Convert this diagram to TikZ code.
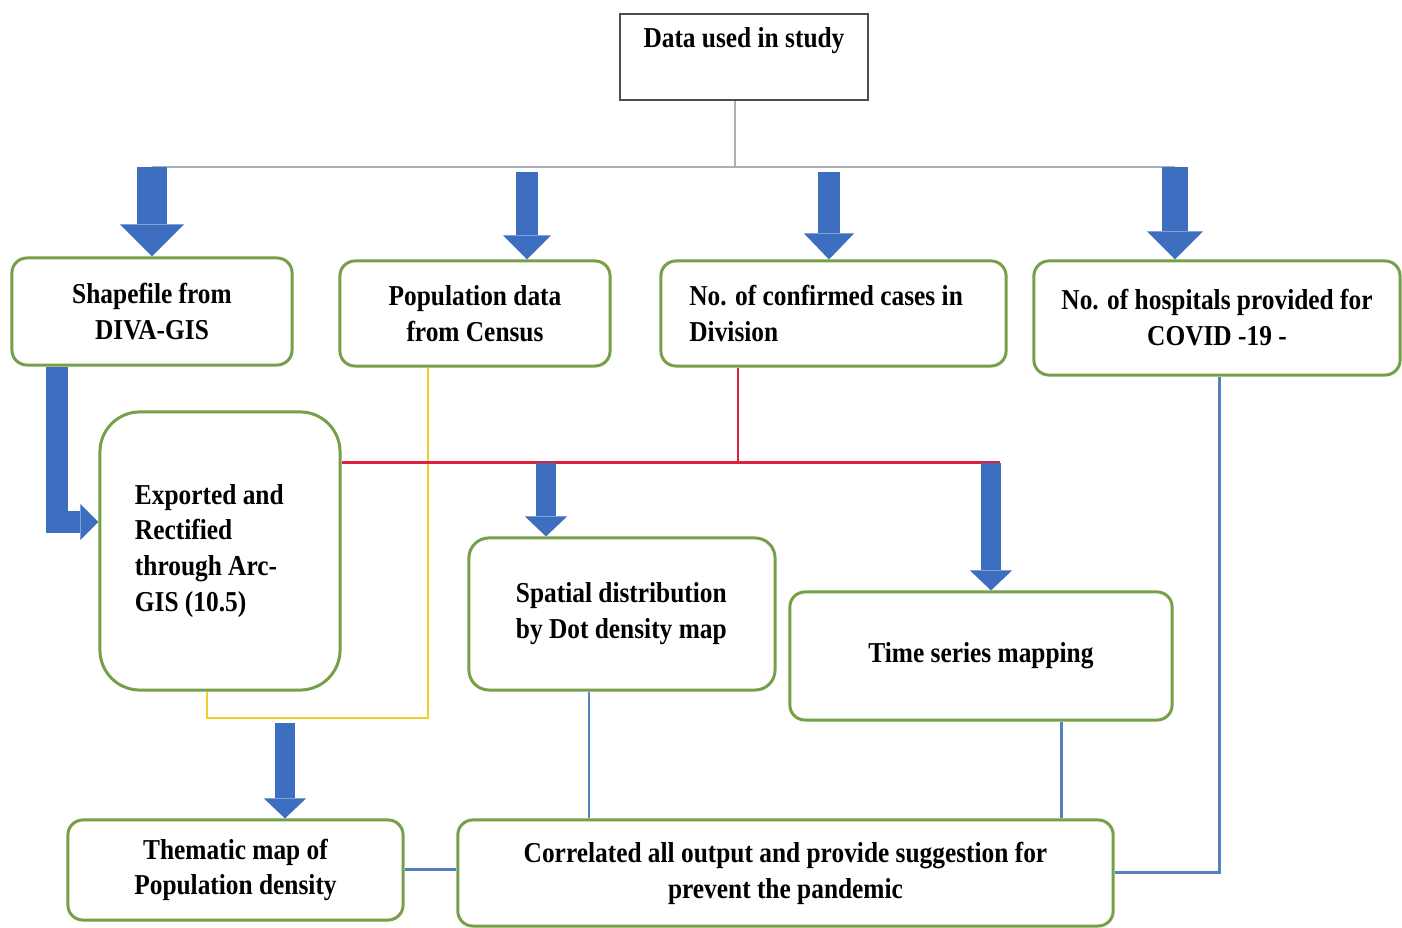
\documentclass[tikz,border=0pt]{standalone}
\usepackage{fontspec}
\setmainfont{Liberation Serif}[FakeStretch=0.88]
\usepackage{tikz}
\usetikzlibrary{positioning,
                arrows.meta,                % arrow tips
                calc}

\definecolor{boxgreen}{RGB}{118,160,72}
\definecolor{flowblue}{RGB}{62,110,192}
\definecolor{linkblue}{RGB}{82,130,192}
\definecolor{splitred}{RGB}{222,32,62}
\definecolor{joinyellow}{RGB}{240,208,40}
\definecolor{stemgray}{RGB}{168,176,184}

\tikzset{
    txt/.style={font=\bfseries\fontsize{8.2}{10.2}\selectfont, text=black},
    stepbox/.style={txt, draw=boxgreen, line width=0.85pt, rounded corners=0.15cm,
                    align=center, inner sep=0pt},
    fat/.style={draw=flowblue, line width=5.7pt,
                -{Triangle[length=0.2cm, width=0.42cm, line width=0pt]}},
    link/.style={draw=linkblue, line width=0.85pt},
}

\begin{document}
\begin{tikzpicture}[x=0.01cm, y=-0.01cm]
    \fill[white] (0,0) rectangle (1402,928);
    \useasboundingbox (0,0) rectangle (1402,928);

    % source
    \node[txt, draw=black!70, line width=0.5pt, anchor=north, inner sep=0pt,
          minimum width=2.48cm, text height=0.34cm, text depth=0.52cm] (data) at (744,13) {Data used in study};

    % data sets
    \node[stepbox, minimum width=2.80cm, minimum height=1.07cm] (sf) at (152,311.5) {Shapefile from\\DIVA-GIS};
    \node[stepbox, minimum width=2.70cm, minimum height=1.05cm] (pop) at (475,313.5) {Population data\\from Census};
    \node[stepbox, minimum width=3.45cm, minimum height=1.05cm, align=flush left, text width=2.88cm] (conf) at (833.5,313.5) {No. of confirmed cases in\\Division};
    \node[stepbox, minimum width=3.66cm, minimum height=1.14cm] (hosp) at (1217,318) {No. of hospitals provided for\\COVID -19 -};

    % processing
    \node[stepbox, rounded corners=0.4cm, minimum width=2.40cm, minimum height=2.78cm, align=flush left, text width=1.70cm] (ex) at (220,551) {Exported and\\Rectified\\through Arc-\\GIS (10.5)};
    \node[stepbox, rounded corners=0.2cm, minimum width=3.06cm, minimum height=1.52cm, align=flush left, text width=2.12cm] (spd) at (622,614) {Spatial distribution\\by Dot density map};
    \node[stepbox, minimum width=3.82cm, minimum height=1.28cm] (ts) at (981,656) {Time series mapping};

    % outputs
    \node[stepbox, minimum width=3.35cm, minimum height=1.00cm] (th) at (235.5,870) {Thematic map of\\Population density};
    \node[stepbox, minimum width=6.55cm, minimum height=1.06cm] (cor) at (785.5,873) {Correlated all output and provide suggestion for\\prevent the pandemic};

    % split from the source
    \coordinate (hub) at (735,167);
    \draw[stemgray, line width=0.6pt] (data.south -| hub) -- (hub);
    \draw[stemgray, line width=0.6pt] (152,167) -- (1175,167);

    \draw[fat, line width=8.5pt, -{Triangle[length=0.32cm, width=0.64cm, line width=0pt]}] (152,167) -- (sf.north);
    \draw[fat, line width=6.3pt, -{Triangle[length=0.24cm, width=0.48cm, line width=0pt]}] (527,172) -- (pop.north -| 527,0);
    \draw[fat, line width=6.3pt, -{Triangle[length=0.26cm, width=0.50cm, line width=0pt]}] (829,172) -- (conf.north -| 829,0);
    \draw[fat, line width=7.4pt, -{Triangle[length=0.28cm, width=0.56cm, line width=0pt]}] (1175,167) -- (hosp.north -| 1175,0);

    % shapefile into arcgis
    \draw[fat, line width=6.3pt, -{Triangle[length=0.18cm, width=0.36cm, line width=0pt]}]
        (sf.south -| 57,0) |- ([yshift=0.29cm]ex.west);

    % population + arcgis
    \coordinate (yjoin) at (207,718);
    \draw[joinyellow, line width=0.7pt] (pop.south -| 428,0) |- (yjoin) -- (ex.south -| yjoin);
    \draw[fat] (285,723) -- (th.north -| 285,0);

    % confirmed cases
    \coordinate (rsplit) at (738,463);
    \draw[splitred, line width=0.85pt] (conf.south -| rsplit) -- (rsplit);
    \draw[splitred, line width=0.85pt] (ex.east |- rsplit) -- (1000,463);
    \draw[fat] (546,463) -- (spd.north -| 546,0);
    \draw[fat] (991,463) -- (ts.north -| 991,0);

    % into the final step
    \draw[link] (spd.south -| 589,0) -- (cor.north -| 589,0);
    \draw[link] (ts.south -| 1061,0) -- (cor.north -| 1061,0);
    \draw[link] (th.east) -- (cor.west |- th.east);
    \draw[link] (hosp.south -| 1219,0) |- (cor.east);
\end{tikzpicture}
\end{document}
